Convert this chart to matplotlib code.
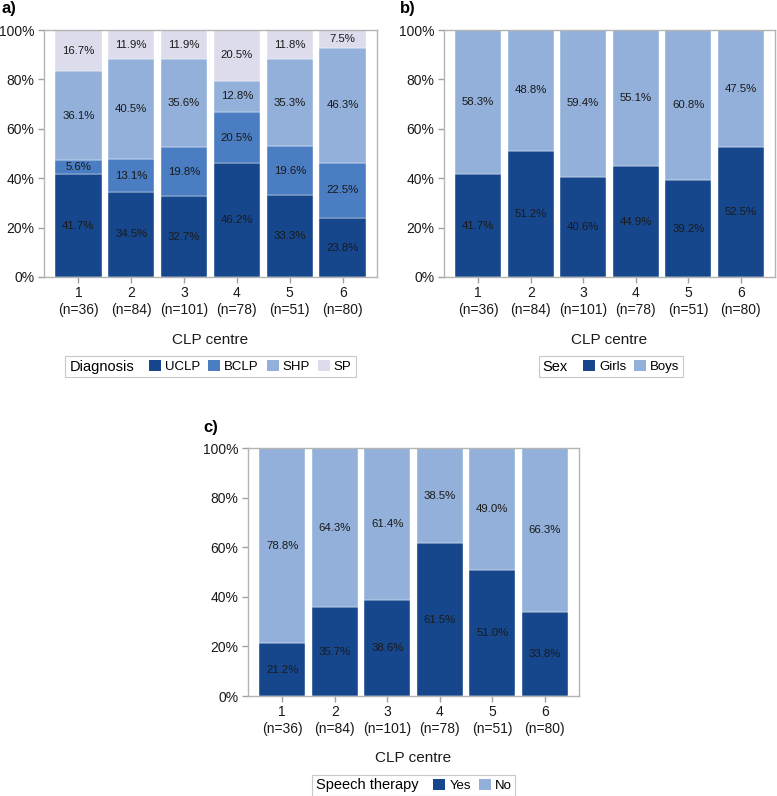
import numpy as np
import matplotlib
matplotlib.use('Agg')
import matplotlib.pyplot as plt
from matplotlib.patches import Patch
from matplotlib.offsetbox import HPacker

plt.rcParams['font.family'] = ['Liberation Sans', 'DejaVu Sans']

# data
centres = [1, 2, 3, 4, 5, 6]
n_patients = [36, 84, 101, 78, 51, 80]

diag_names = ['UCLP', 'BCLP', 'SHP', 'SP']
uclp = [41.7, 34.5, 32.7, 46.2, 33.3, 23.8]
bclp = [5.6, 13.1, 19.8, 20.5, 19.6, 22.5]
shp = [36.1, 40.5, 35.6, 12.8, 35.3, 46.3]
sp = [16.7, 11.9, 11.9, 20.5, 11.8, 7.5]

sex_names = ['Girls', 'Boys']
girls = [41.7, 51.2, 40.6, 44.9, 39.2, 52.5]
boys = [58.3, 48.8, 59.4, 55.1, 60.8, 47.5]

therapy_names = ['Yes', 'No']
therapy_yes = [21.2, 35.7, 38.6, 61.5, 51.0, 33.8]
therapy_no = [78.8, 64.3, 61.4, 38.5, 49.0, 66.3]

DARK = '#16478c'
MID = '#4a7dc1'
LIGHT = '#92b0da'
PALE = '#dcdced'

W, H = 777, 796
fig = plt.figure(figsize=(W / 100, H / 100), dpi=100)


def px_axes(l, t, r, b):
    return fig.add_axes([l / W, 1 - b / H, (r - l) / W, (b - t) / H])


def stacked(ax, series, colors):
    x = np.array(centres)
    bottom = np.zeros(len(x))
    for vals, col in zip(series, colors):
        vals = np.array(vals)
        bars = ax.bar(x, vals, bottom=bottom, width=0.88, color=col,
                      edgecolor='white', linewidth=0.3)
        ax.bar_label(bars, labels=[f'{v:.1f}%' for v in vals], label_type='center',
                     fontsize=8.2, color='#1a1a1a')
        bottom += vals
    ax.set_xlim(0.35, 6.65)
    ax.set_ylim(0, 100)
    ax.set_yticks(range(0, 101, 20))
    ax.set_yticklabels([f'{v}%' for v in range(0, 101, 20)])
    ax.set_xticks(x)
    ax.set_xticklabels([f'{c}\n(n={n})' for c, n in zip(centres, n_patients)],
                       linespacing=1.25)
    for s in ax.spines.values():
        s.set_color('#b4b4b4')
        s.set_linewidth(1.0)
    ax.tick_params(color='#a0a0a0', length=4.5, width=1, labelsize=10,
                   labelcolor='#1a1a1a')
    ax.tick_params(axis='x', pad=2)
    ax.tick_params(axis='y', pad=2.6)
    ax.set_xlabel('CLP centre', fontsize=11, color='#1a1a1a')


def inline_legend(ax, names, colors, title, cx, cy):
    handles = [Patch(facecolor=c, edgecolor='none') for c in colors]
    leg = ax.legend(handles, names, title=title, ncol=len(names), loc='center',
                    bbox_to_anchor=(cx / W, 1 - cy / H), bbox_transform=fig.transFigure,
                    fontsize=9.5, title_fontsize=10.5, frameon=True, fancybox=False,
                    edgecolor='#c8c8c8', framealpha=1, handlelength=0.9,
                    handleheight=0.9, handletextpad=0.3, columnspacing=0.6,
                    borderpad=0.3, borderaxespad=0)
    leg.get_frame().set_linewidth(0.8)
    vbox = leg._legend_box
    title_box, handle_box = vbox.get_children()
    hbox = HPacker(pad=vbox.pad, sep=11, align='center',
                   children=[title_box, handle_box])
    hbox.set_figure(fig)
    hbox.axes = ax
    hbox.set_offset(leg._findoffset)
    leg._legend_box = hbox
    return leg


ax_a = px_axes(44, 30, 377, 277)
stacked(ax_a, [uclp, bclp, shp, sp], [DARK, MID, LIGHT, PALE])
ax_a.xaxis.set_label_coords(0.5, -(340 - 277) / 247)
ax_a.xaxis.label.set_va('center')
inline_legend(ax_a, diag_names, [DARK, MID, LIGHT, PALE], 'Diagnosis', 210.5, 366.5)

ax_b = px_axes(444, 30, 775, 277)
stacked(ax_b, [girls, boys], [DARK, LIGHT])
ax_b.xaxis.set_label_coords(0.5, -(340 - 277) / 247)
ax_b.xaxis.label.set_va('center')
inline_legend(ax_b, sex_names, [DARK, LIGHT], 'Sex', 611, 366.5)

ax_c = px_axes(248, 448, 579, 696)
stacked(ax_c, [therapy_yes, therapy_no], [DARK, LIGHT])
ax_c.xaxis.set_label_coords(0.5, -(758 - 696) / 248)
ax_c.xaxis.label.set_va('center')
inline_legend(ax_c, therapy_names, [DARK, LIGHT], 'Speech therapy', 413.5, 785.5)

fig.text(1 / W, 1 - 1 / H, 'a)', fontsize=12, fontweight='bold', va='top', ha='left')
fig.text(400 / W, 1 - 1 / H, 'b)', fontsize=12, fontweight='bold', va='top', ha='left')
fig.text(203 / W, 1 - 420 / H, 'c)', fontsize=12, fontweight='bold', va='top', ha='left')

fig.savefig('out.png', dpi=100)
